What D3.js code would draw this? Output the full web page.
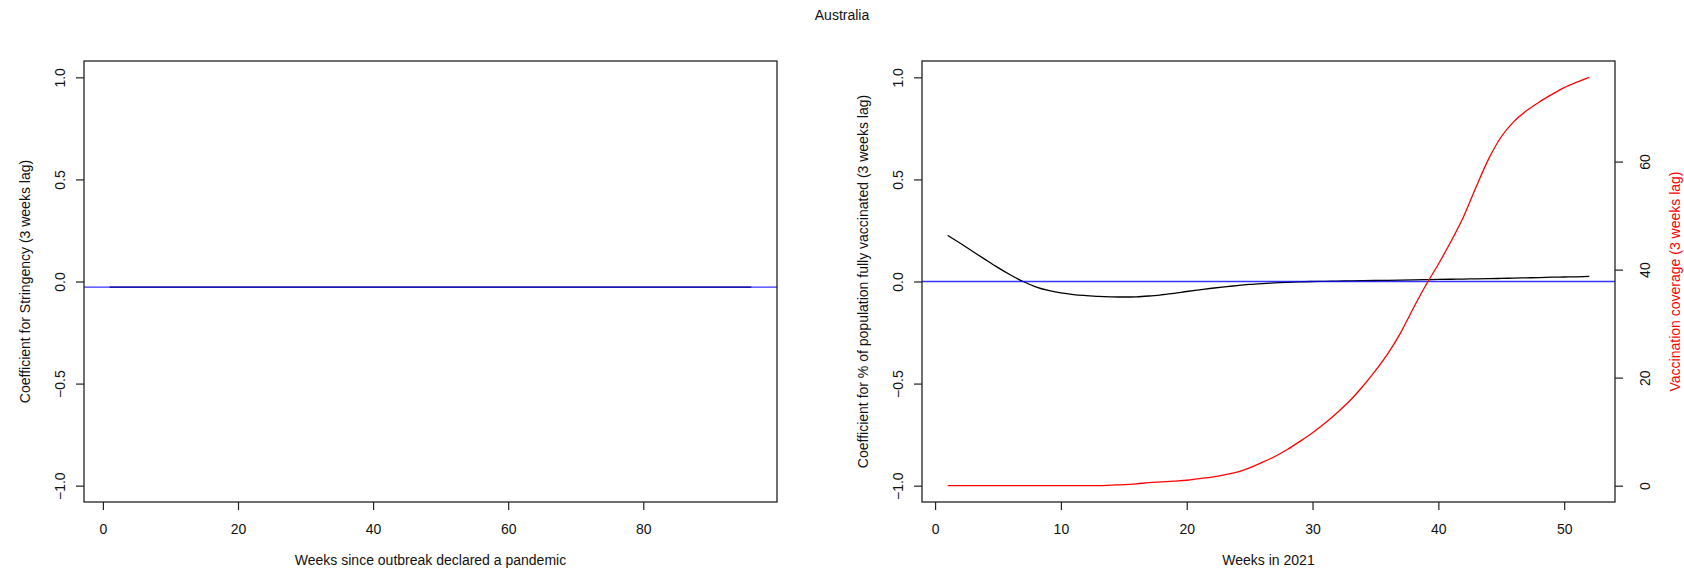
<!DOCTYPE html>
<html>
<head>
<meta charset="utf-8">
<script src="https://cdn.jsdelivr.net/npm/d3@7/dist/d3.min.js"></script>
<style>
  body { margin: 0; background: #fff; }
  svg { display: block; }
  text { font-family: "Liberation Sans", Arial, Helvetica, sans-serif; fill: #111; }
</style>
</head>
<body>
<svg id="chart" width="1684" height="572"></svg>
<script>
// ---- data ----------------------------------------------------------------
const country = "Australia";

// Left panel: coefficient for stringency by week since the pandemic declaration
const stringencyWeeks = d3.range(1, 97);
const stringencyCoef = [
  -0.028, -0.028, -0.028, -0.028, -0.028, -0.028, -0.028, -0.028, -0.028, -0.028, -0.028, -0.028,
  -0.028, -0.028, -0.028, -0.028, -0.028, -0.028, -0.028, -0.028, -0.028, -0.028, -0.028, -0.028,
  -0.028, -0.028, -0.028, -0.028, -0.028, -0.028, -0.028, -0.028, -0.028, -0.028, -0.028, -0.028,
  -0.028, -0.028, -0.028, -0.028, -0.028, -0.028, -0.028, -0.028, -0.028, -0.028, -0.028, -0.028,
  -0.028, -0.028, -0.028, -0.028, -0.028, -0.028, -0.028, -0.028, -0.028, -0.028, -0.028, -0.028,
  -0.028, -0.028, -0.028, -0.028, -0.028, -0.028, -0.028, -0.028, -0.028, -0.028, -0.028, -0.028,
  -0.028, -0.028, -0.028, -0.028, -0.028, -0.028, -0.028, -0.028, -0.028, -0.028, -0.028, -0.028,
  -0.028, -0.028, -0.028, -0.028, -0.028, -0.028, -0.028, -0.028, -0.028, -0.028, -0.028, -0.028
];
const stringencyRef = -0.028;

// Right panel: weeks of 2021
const weeks2021 = d3.range(1, 53);
// coefficient for % of population fully vaccinated (3 weeks lag)
const vaccCoef = [
   0.226,  0.187,  0.147,  0.107,  0.068,  0.032,  0.000, -0.026, -0.044, -0.056,
  -0.064, -0.069, -0.073, -0.075, -0.076, -0.075, -0.071, -0.065, -0.058, -0.049,
  -0.041, -0.033, -0.026, -0.020, -0.014, -0.010, -0.007, -0.004, -0.002,  0.000,
   0.001,  0.002,  0.003,  0.004,  0.005,  0.006,  0.007,  0.008,  0.009,  0.010,
   0.011,  0.012,  0.013,  0.014,  0.015,  0.017,  0.018,  0.019,  0.021,  0.022,
   0.023,  0.025
];
const vaccRef = 0;
// vaccination coverage, % fully vaccinated (3 weeks lag)
const vaccCoverage = [
   0.0,  0.0,  0.0,  0.0,  0.0,  0.0,  0.0,  0.0,  0.0,  0.0,
   0.0,  0.0,  0.0,  0.1,  0.2,  0.35, 0.55, 0.7,  0.85, 1.0,
   1.3,  1.6,  2.0,  2.5,  3.3,  4.3,  5.4,  6.7,  8.2,  9.8,
  11.6, 13.6, 15.8, 18.4, 21.3, 24.5, 28.3, 32.8, 37.1, 41.0,
  45.2, 49.8, 55.3, 60.5, 64.6, 67.4, 69.4, 71.0, 72.4, 73.7,
  74.7, 75.6
];

// tick values
const coefTicks = [-1, -0.5, 0, 0.5, 1];
const stringencyWeekTicks = [0, 20, 40, 60, 80];
const weekTicks2021 = [0, 10, 20, 30, 40, 50];
const coverageTicks = [0, 20, 40, 60];

// ---- layout --------------------------------------------------------------
const FONT = 14;
const TICK = 8;
const left  = { x0: 84,  x1: 777,  y0: 61, y1: 502 };
const right = { x0: 922, x1: 1615, y0: 61, y1: 502 };

// R-style "regular" axis range: data range extended by 4% at each end
const pad4 = ([a, b]) => { const d = (b - a) * 0.04; return [a - d, b + d]; };
const fmtCoef = d => d3.format(".1f")(d).replace("-", "\u2212");

const svg = d3.select("#chart");

svg.append("text")
  .attr("x", 842).attr("y", 15)
  .attr("text-anchor", "middle").attr("dy", "0.35em")
  .style("font-size", FONT + "px")
  .text(country);

function panel(p, xDomain, xTicks, xTitle, yTitle) {
  const x = d3.scaleLinear().domain(pad4(xDomain)).range([p.x0, p.x1]);
  const y = d3.scaleLinear().domain(pad4([-1, 1])).range([p.y1, p.y0]);
  const g = svg.append("g");

  // bottom axis
  const ax = g.append("g").attr("transform", `translate(0,${p.y1})`)
    .call(d3.axisBottom(x).tickValues(xTicks).tickSize(TICK).tickPadding(14).tickFormat(d3.format("d")));
  ax.select(".domain").remove();
  ax.selectAll("line").attr("stroke", "#222").attr("stroke-width", 1.2);
  ax.selectAll("text").style("font-size", FONT + "px").attr("fill", "#111");

  // left axis, labels parallel to the axis
  const ay = g.append("g").attr("transform", `translate(${p.x0},0)`)
    .call(d3.axisLeft(y).tickValues(coefTicks).tickSize(TICK).tickFormat(fmtCoef));
  ay.select(".domain").remove();
  ay.selectAll("line").attr("stroke", "#222").attr("stroke-width", 1.2);
  ay.selectAll("text")
    .attr("x", null).attr("dy", null)
    .attr("transform", "translate(-24,0) rotate(-90)")
    .attr("text-anchor", "middle").attr("dy", "0.36em")
    .style("font-size", FONT + "px").attr("fill", "#111");

  // axis titles
  g.append("text").attr("x", (p.x0 + p.x1) / 2).attr("y", 560)
    .attr("text-anchor", "middle").attr("dy", "0.36em")
    .style("font-size", FONT + "px").text(xTitle);
  g.append("text")
    .attr("transform", `translate(${p.x0 - 59},${(p.y0 + p.y1) / 2}) rotate(-90)`)
    .attr("text-anchor", "middle").attr("dy", "0.36em")
    .style("font-size", FONT + "px").text(yTitle);

  return { g, x, y };
}

// ---- left panel ------------------------------------------------------------
{
  const { g, x, y } = panel(left, d3.extent(stringencyWeeks), stringencyWeekTicks,
    "Weeks since outbreak declared a pandemic", "Coefficient for Stringency (3 weeks lag)");
  const line = d3.line().x((d, i) => x(stringencyWeeks[i])).y(d => y(d));
  g.append("path").datum(stringencyCoef).attr("d", line)
    .attr("fill", "none").attr("stroke", "#000").attr("stroke-width", 1.3);
  g.append("line")
    .attr("x1", left.x0).attr("x2", left.x1)
    .attr("y1", y(stringencyRef)).attr("y2", y(stringencyRef))
    .attr("stroke", "#0000ff").attr("stroke-opacity", 0.8).attr("stroke-width", 1.3);
  g.append("rect").attr("x", left.x0).attr("y", left.y0)
    .attr("width", left.x1 - left.x0).attr("height", left.y1 - left.y0)
    .attr("fill", "none").attr("stroke", "#222").attr("stroke-width", 1.3);
}

// ---- right panel -----------------------------------------------------------
{
  const { g, x, y } = panel(right, d3.extent(weeks2021), weekTicks2021,
    "Weeks in 2021", "Coefficient for % of population fully vaccinated (3 weeks lag)");
  const yv = d3.scaleLinear().domain(pad4([0, d3.max(vaccCoverage)])).range([right.y1, right.y0]);

  const coefLine = d3.line().x((d, i) => x(weeks2021[i])).y(d => y(d)).curve(d3.curveMonotoneX);
  g.append("path").datum(vaccCoef).attr("d", coefLine)
    .attr("fill", "none").attr("stroke", "#000").attr("stroke-width", 1.3);
  g.append("line")
    .attr("x1", right.x0).attr("x2", right.x1)
    .attr("y1", y(vaccRef)).attr("y2", y(vaccRef))
    .attr("stroke", "#0000ff").attr("stroke-opacity", 0.8).attr("stroke-width", 1.3);

  const covLine = d3.line().x((d, i) => x(weeks2021[i])).y(d => yv(d)).curve(d3.curveMonotoneX);
  g.append("path").datum(vaccCoverage).attr("d", covLine)
    .attr("fill", "none").attr("stroke", "#ff0000").attr("stroke-width", 1.3);

  // right axis for coverage
  const ar = g.append("g").attr("transform", `translate(${right.x1},0)`)
    .call(d3.axisRight(yv).tickValues(coverageTicks).tickSize(TICK).tickFormat(d3.format("d")));
  ar.select(".domain").remove();
  ar.selectAll("line").attr("stroke", "#222").attr("stroke-width", 1.2);
  ar.selectAll("text")
    .attr("x", null).attr("dy", null)
    .attr("transform", "translate(30,0) rotate(-90)")
    .attr("text-anchor", "middle").attr("dy", "0.36em")
    .style("font-size", FONT + "px").attr("fill", "#111");
  g.append("text")
    .attr("transform", `translate(${right.x1 + 60},${(right.y0 + right.y1) / 2}) rotate(-90)`)
    .attr("text-anchor", "middle").attr("dy", "0.36em")
    .style("font-size", FONT + "px").style("fill", "#ff0000")
    .text("Vaccination coverage (3 weeks lag)");

  g.append("rect").attr("x", right.x0).attr("y", right.y0)
    .attr("width", right.x1 - right.x0).attr("height", right.y1 - right.y0)
    .attr("fill", "none").attr("stroke", "#222").attr("stroke-width", 1.3);
}
</script>
</body>
</html>
